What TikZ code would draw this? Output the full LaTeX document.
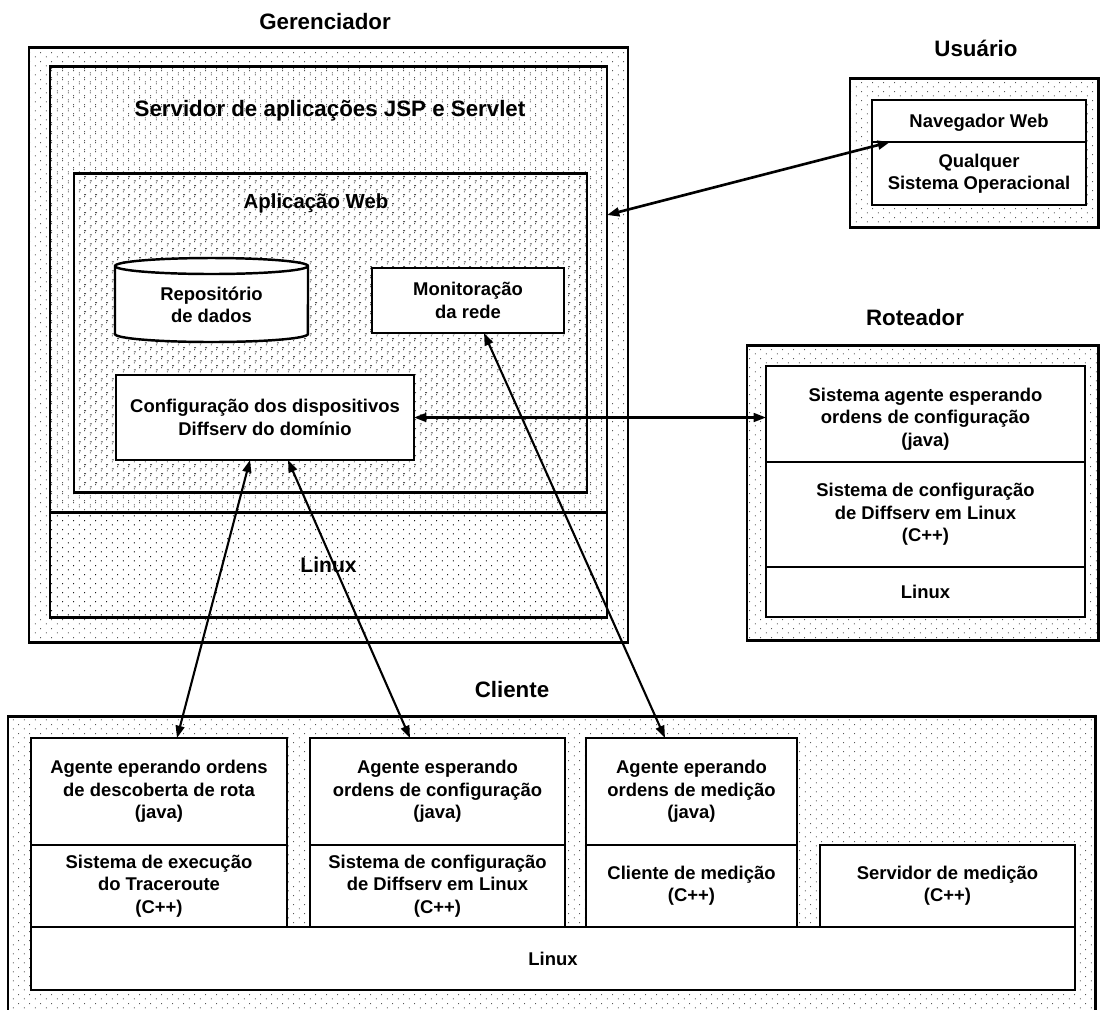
\documentclass[tikz,border=0pt]{standalone}
\usepackage{fontspec}
\setmainfont{Liberation Sans}
\usetikzlibrary{fit,calc,arrows.meta,patterns.meta}

% fine stipple used as the background of the machine frames
\tikzdeclarepattern{
  name=stipple,
  type=uncolored,
  bounding box={(0,0) and (6.4pt,5.2pt)},
  tile size={(6.4pt,5.2pt)},
  code={
    \pgfpathcircle{\pgfpoint{1.4pt}{1.3pt}}{0.32pt}
    \pgfpathcircle{\pgfpoint{4.6pt}{3.9pt}}{0.32pt}
    \pgfusepath{fill}
  }
}

\begin{document}
\begin{tikzpicture}[x=0.02cm,y=-0.02cm,
  txt/.style={font=\bfseries\fontsize{10.5}{12.7}\selectfont, align=center},
  frame/.style={draw, line width=1.7pt, pattern=stipple, pattern color=black,
                inner sep=0pt, outer sep=0pt},
  wbox/.style={draw, line width=1.4pt, fill=white, inner sep=0pt, outer sep=0pt},
  title/.style={font=\bfseries\fontsize{12.7}{15}\selectfont},
  arr/.style={{Triangle[length=7pt,width=5pt]}-{Triangle[length=7pt,width=5pt]},
              line width=1.2pt}
]
\useasboundingbox (0,0) rectangle (1100,1009);

% ---------------- Gerenciador ----------------
\node[title] (gerT) at (325,22) {Gerenciador};
\node[frame, fit={(29,47) (628,642)}] (ger) {};
\node[frame, fit={(50,66) (607,512)}] (srv) {};
\node[frame, fit={(50,512) (607,617)}] (glin) {};
\node[font=\bfseries\fontsize{12}{14}\selectfont] (glinT) at (glin.center) {Linux};
\node[title] (srvT) at (330,111) {Servidor de aplicações JSP e Servlet};
\node[frame, fit={(74,173) (587,492)}] (app) {};
\node[font=\bfseries\fontsize{11.6}{14}\selectfont] (appT) at (316,203) {Aplicação Web};

% data repository (cylinder)
\draw[line width=1.4pt, fill=white]
  (115,266) -- (115,334)
  arc[start angle=180, end angle=360, x radius=1.93cm, y radius=0.16cm]
  -- (308,266)
  arc[start angle=0, end angle=180, x radius=1.93cm, y radius=0.16cm] -- cycle;
\draw[line width=1.4pt]
  (115,266) arc[start angle=180, end angle=360, x radius=1.93cm, y radius=0.16cm];
\node[txt] (repo) at (211.5,305) {Repositório\\de dados};

\node[wbox, fit={(372,268) (564,333)}] (mon) {};
\node[txt] (monT) at (mon.center) {Monitoração\\da rede};
\node[wbox, fit={(116,375) (414,460)}] (cfg) {};
\node[txt] (cfgT) at (cfg.center) {Configuração dos dispositivos\\Diffserv do domínio};

% ---------------- Usuário ----------------
\node[title] (usrT) at (976,48) {Usuário};
\node[frame, fit={(850,78) (1098,227)}] (usr) {};
\node[wbox, fit={(872,100) (1086,142)}] (nav) {};
\node[txt] (navT) at ($(nav.center)+(0,2)$) {Navegador Web};
\node[wbox, fit={(872,142) (1086,205)}] (os) {};
\node[txt] (osT) at (os.center) {Qualquer\\Sistema Operacional};

% ---------------- Roteador ----------------
\node[title] (rotT) at (915,318) {Roteador};
\node[frame, fit={(747,345) (1098,640)}] (rot) {};
\node[wbox, fit={(766,366) (1085,462)}] (rotA) {};
\node[txt] (rotAT) at ($(rotA.center)+(0,5)$) {Sistema agente esperando\\ordens de configuração\\(java)};
\node[wbox, fit={(766,462) (1085,567)}] (rotB) {};
\node[txt] (rotBT) at (rotB.center) {Sistema de configuração\\de Diffserv em Linux\\(C++)};
\node[wbox, fit={(766,567) (1085,617)}] (rotC) {};
\node[txt] (rotCT) at (rotC.center) {Linux};

% ---------------- Cliente ----------------
\node[title] (cliT) at (512,690) {Cliente};
\node[frame, fit={(8,716) (1095,1020)}] (cli) {};
\node[wbox, fit={(31,738) (287,845)}] (c1a) {};
\node[txt] (c1aT) at (c1a.center) {Agente eperando ordens\\de descoberta de rota\\(java)};
\node[wbox, fit={(31,845) (287,927)}] (c1b) {};
\node[txt] (c1bT) at (c1b.center) {Sistema de execução\\do Traceroute\\(C++)};
\node[wbox, fit={(310,738) (565,845)}] (c2a) {};
\node[txt] (c2aT) at (c2a.center) {Agente esperando\\ordens de configuração\\(java)};
\node[wbox, fit={(310,845) (565,927)}] (c2b) {};
\node[txt] (c2bT) at (c2b.center) {Sistema de configuração\\de Diffserv em Linux\\(C++)};
\node[wbox, fit={(586,738) (797,845)}] (c3a) {};
\node[txt] (c3aT) at (c3a.center) {Agente eperando\\ordens de medição\\(java)};
\node[wbox, fit={(586,845) (797,927)}] (c3b) {};
\node[txt] (c3bT) at (c3b.center) {Cliente de medição\\(C++)};
\node[wbox, fit={(820,845) (1075,927)}] (srvm) {};
\node[txt] (srvmT) at (srvm.center) {Servidor de medição\\(C++)};
\node[wbox, fit={(31,927) (1075,990)}] (clin) {};
\node[txt] (clinT) at (clin.center) {Linux};

% ---------------- connections ----------------
\coordinate (srvP) at (srv.east |- 0,215);
\coordinate (navP) at ($(nav.south west)+(18,0)$);
\coordinate (cfgP1) at ($(cfg.south west)+(134,0)$);
\coordinate (cfgP2) at ($(cfg.south west)+(172,0)$);
\coordinate (monP) at ($(mon.south west)+(112,0)$);
\coordinate (c1P) at ($(c1a.north west)+(146,0)$);
\coordinate (c2P) at ($(c2a.north west)+(100,0)$);
\coordinate (c3P) at ($(c3a.north west)+(79,0)$);

\draw[arr, line width=1.5pt] (srvP) -- (navP);
\draw[arr] (cfg.east) -- (cfg.east -| rotA.west);
\draw[arr] (cfgP1) -- (c1P);
\draw[arr] (cfgP2) -- (c2P);
\draw[arr] (monP) -- (c3P);
\end{tikzpicture}
\end{document}
